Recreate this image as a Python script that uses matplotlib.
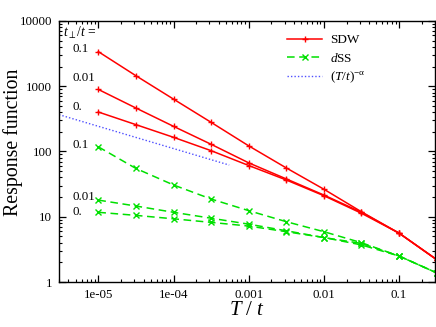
import numpy as np
import matplotlib.pyplot as plt
from matplotlib.ticker import FixedLocator, LogLocator, NullFormatter

plt.rcParams['font.family'] = ['Liberation Serif', 'DejaVu Serif']
plt.rcParams['mathtext.fontset'] = 'custom'
plt.rcParams['mathtext.rm'] = 'Liberation Serif'
plt.rcParams['mathtext.it'] = 'Liberation Serif:italic'

# temperatures T/t
T = [1e-5, 3.16e-5, 1e-4, 3.16e-4, 1e-3, 3.16e-3, 1e-2, 3.16e-2, 0.1, 0.316]

# SDW response for t_perp/t = 0.1, 0.01, 0
sdw_01 = [3390, 1450, 635, 280, 122, 56, 26.4, 11.9, 5.6, 2.2]
sdw_001 = [894, 464, 243, 129, 67, 38, 21.5, 11.7, 5.6, 2.2]
sdw_0 = [403, 258, 165, 103, 61, 36.6, 21, 11.3, 5.6, 2.2]

# dSS response for t_perp/t = 0.1, 0.01, 0
dss_01 = [118, 55, 30.7, 18.7, 12.4, 8.4, 5.9, 4.0, 2.5, 1.38]
dss_001 = [18, 14.6, 11.7, 9.5, 7.7, 6.1, 4.8, 3.9, 2.5, 1.38]
dss_0 = [11.7, 10.5, 9.3, 8.2, 7.2, 5.9, 4.8, 3.7, 2.5, 1.38]

# power law guide (T/t)^-alpha, end points
pl_T = [3e-6, 5.5e-4]
pl_y = [367, 62]

# curve labels on the left
curve_labels = ['0.1', '0.01', '0.', '0.1', '0.01', '0.']
curve_label_y = [3730, 1340, 480, 126, 20, 11.8]

fig = plt.figure(figsize=(4.36, 3.27), dpi=100)
ax = fig.add_axes([0.1353, 0.1376, 0.8624, 0.7982])

red = '#ff0000'
green = '#00e000'
blue = '#5050ff'

ax.plot(T, sdw_01, color=red, lw=1.1, marker='+', ms=5, mew=1.0, label='SDW')
ax.plot(T, sdw_001, color=red, lw=1.1, marker='+', ms=5, mew=1.0)
ax.plot(T, sdw_0, color=red, lw=1.1, marker='+', ms=5, mew=1.0)
ax.plot(T, dss_01, color=green, lw=1.1, ls=(0, (5, 3)), marker='x', ms=4, mew=1.0, label='$d$SS')
ax.plot(T, dss_001, color=green, lw=1.1, ls=(0, (5, 3)), marker='x', ms=4, mew=1.0)
ax.plot(T, dss_0, color=green, lw=1.1, ls=(0, (5, 3)), marker='x', ms=4, mew=1.0)
ax.plot(pl_T, pl_y, color=blue, lw=1.0, ls=(0, (1, 1.5)), label=r'$(T/t)^{\mathregular{-\alpha}}$')

ax.set_xscale('log')
ax.set_yscale('log')
ax.set_xlim(3e-6, 0.3)
ax.set_ylim(1, 10000)

ax.xaxis.set_major_locator(FixedLocator([1e-5, 1e-4, 1e-3, 1e-2, 1e-1]))
ax.set_xticklabels(['1e-05', '1e-04', '0.001', '0.01', '0.1'])
ax.xaxis.set_minor_locator(LogLocator(base=10, subs=np.arange(2, 10)))
ax.xaxis.set_minor_formatter(NullFormatter())
ax.yaxis.set_major_locator(FixedLocator([1, 10, 100, 1000, 10000]))
ax.set_yticklabels(['1', '10', '100', '1000', '10000'])
ax.yaxis.set_minor_locator(LogLocator(base=10, subs=np.arange(2, 10)))
ax.yaxis.set_minor_formatter(NullFormatter())

ax.tick_params(which='both', direction='in', top=True, right=True, labelsize=9.3)
ax.tick_params(which='major', length=5, width=0.9, pad=5)
ax.tick_params(which='minor', length=2.5, width=0.8)
for s in ax.spines.values():
    s.set_linewidth(1.0)

ax.set_xlabel('$T$ / $t$', fontsize=15, labelpad=0)
fig.text(0.03, 0.564, 'Response function', fontsize=14.3, rotation=90, ha='center', va='center')

ax.text(0.01, 0.955, r'$t_\perp$/$t$ =', transform=ax.transAxes, fontsize=9.8, va='center')
for lab, yv in zip(curve_labels, curve_label_y):
    ax.text(4.6e-6, yv, lab, fontsize=9.3, va='center')

leg = ax.legend(loc='upper left', bbox_to_anchor=(0.606, 0.95), frameon=False, fontsize=9.5,
                borderpad=0, borderaxespad=0, handlelength=2.7, handletextpad=0.6,
                labelspacing=0.4)

fig.savefig('out.png', dpi=100)
